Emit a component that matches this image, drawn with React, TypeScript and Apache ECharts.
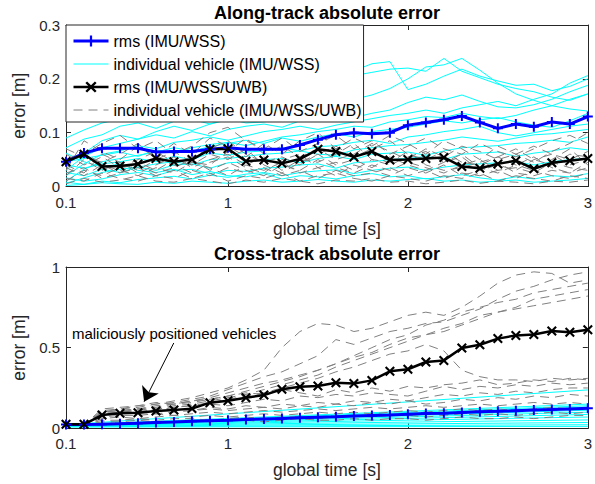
import React, { useEffect, useRef } from "react";
import * as echarts from "echarts";

// time stamps (s)
const times = [0.1, 0.2, 0.3, 0.4, 0.5, 0.6, 0.7, 0.8, 0.9, 1.0, 1.1, 1.2, 1.3, 1.4, 1.5, 1.6, 1.7, 1.8, 1.9, 2.0, 2.1, 2.2, 2.3, 2.4, 2.5, 2.6, 2.7, 2.8, 2.9, 3.0];
const xTickValues = [0.1, 1, 2, 3];

const NAME_RMS_A = "rms (IMU/WSS)";
const NAME_IND_A = "individual vehicle (IMU/WSS)";
const NAME_RMS_B = "rms (IMU/WSS/UWB)";
const NAME_IND_B = "individual vehicle (IMU/WSS/UWB)";

// ---------- along-track ----------
const alongRmsA = [0.046, 0.062, 0.071, 0.071, 0.071, 0.064, 0.065, 0.065, 0.069, 0.072, 0.069, 0.069, 0.069, 0.077, 0.087, 0.096, 0.100, 0.098, 0.100, 0.114, 0.119, 0.124, 0.131, 0.119, 0.108, 0.116, 0.111, 0.120, 0.116, 0.130];
const alongRmsB = [0.046, 0.060, 0.037, 0.038, 0.042, 0.052, 0.046, 0.050, 0.069, 0.070, 0.047, 0.049, 0.043, 0.051, 0.069, 0.065, 0.055, 0.065, 0.049, 0.050, 0.052, 0.054, 0.037, 0.034, 0.042, 0.048, 0.033, 0.044, 0.048, 0.052];

const alongIndA = [
  [0.090, 0.105, 0.118, 0.125, 0.122, 0.130, 0.128, 0.134, 0.126, 0.131, 0.140, 0.155, 0.170, 0.185, 0.195, 0.205, 0.215, 0.228, 0.232, 0.180, 0.190, 0.205, 0.218, 0.205, 0.196, 0.188, 0.190, 0.178, 0.186, 0.200],
  [0.072, 0.088, 0.096, 0.112, 0.118, 0.108, 0.121, 0.125, 0.116, 0.124, 0.130, 0.142, 0.160, 0.176, 0.188, 0.198, 0.206, 0.212, 0.218, 0.220, 0.214, 0.238, 0.214, 0.202, 0.190, 0.182, 0.176, 0.166, 0.160, 0.172],
  [0.050, 0.062, 0.085, 0.095, 0.088, 0.102, 0.112, 0.104, 0.116, 0.126, 0.118, 0.120, 0.126, 0.132, 0.142, 0.150, 0.162, 0.170, 0.182, 0.200, 0.222, 0.226, 0.238, 0.216, 0.192, 0.172, 0.160, 0.150, 0.144, 0.140],
  [0.030, 0.056, 0.072, 0.080, 0.088, 0.096, 0.090, 0.102, 0.094, 0.106, 0.112, 0.116, 0.110, 0.122, 0.126, 0.132, 0.128, 0.136, 0.142, 0.156, 0.166, 0.161, 0.170, 0.158, 0.148, 0.146, 0.152, 0.162, 0.176, 0.188],
  [0.020, 0.042, 0.060, 0.066, 0.076, 0.070, 0.082, 0.086, 0.092, 0.086, 0.094, 0.102, 0.106, 0.112, 0.106, 0.114, 0.120, 0.126, 0.132, 0.136, 0.142, 0.136, 0.146, 0.152, 0.158, 0.150, 0.162, 0.172, 0.192, 0.206],
  [0.046, 0.052, 0.058, 0.064, 0.056, 0.068, 0.062, 0.072, 0.078, 0.082, 0.076, 0.084, 0.092, 0.096, 0.102, 0.106, 0.112, 0.110, 0.120, 0.124, 0.130, 0.128, 0.136, 0.130, 0.126, 0.132, 0.142, 0.150, 0.162, 0.172],
  [0.010, 0.032, 0.046, 0.052, 0.058, 0.064, 0.072, 0.066, 0.074, 0.080, 0.086, 0.080, 0.090, 0.084, 0.092, 0.098, 0.092, 0.102, 0.106, 0.110, 0.116, 0.122, 0.118, 0.124, 0.128, 0.120, 0.114, 0.110, 0.122, 0.136],
  [0.040, 0.034, 0.042, 0.046, 0.052, 0.046, 0.056, 0.050, 0.062, 0.058, 0.064, 0.066, 0.072, 0.066, 0.074, 0.076, 0.082, 0.086, 0.080, 0.092, 0.096, 0.102, 0.106, 0.112, 0.100, 0.094, 0.100, 0.106, 0.112, 0.116],
  [0.006, 0.016, 0.026, 0.032, 0.036, 0.042, 0.046, 0.040, 0.050, 0.052, 0.056, 0.060, 0.062, 0.066, 0.060, 0.058, 0.068, 0.072, 0.076, 0.078, 0.082, 0.086, 0.092, 0.088, 0.084, 0.090, 0.096, 0.098, 0.102, 0.106],
  [0.026, 0.020, 0.032, 0.026, 0.036, 0.030, 0.040, 0.042, 0.034, 0.044, 0.046, 0.050, 0.052, 0.044, 0.052, 0.056, 0.050, 0.060, 0.062, 0.064, 0.058, 0.066, 0.072, 0.074, 0.076, 0.080, 0.082, 0.086, 0.082, 0.092],
  [0.016, 0.010, 0.014, 0.022, 0.026, 0.020, 0.030, 0.032, 0.024, 0.030, 0.028, 0.034, 0.036, 0.040, 0.042, 0.034, 0.044, 0.046, 0.050, 0.052, 0.056, 0.050, 0.060, 0.062, 0.064, 0.056, 0.062, 0.066, 0.072, 0.068],
  [0.008, 0.004, 0.010, 0.007, 0.013, 0.016, 0.019, 0.014, 0.021, 0.017, 0.023, 0.026, 0.020, 0.026, 0.029, 0.031, 0.024, 0.030, 0.034, 0.036, 0.030, 0.036, 0.040, 0.042, 0.044, 0.046, 0.040, 0.046, 0.050, 0.052],
  [0.062, 0.046, 0.036, 0.042, 0.030, 0.026, 0.032, 0.022, 0.028, 0.020, 0.018, 0.024, 0.014, 0.020, 0.018, 0.014, 0.020, 0.024, 0.018, 0.020, 0.014, 0.018, 0.022, 0.016, 0.012, 0.018, 0.014, 0.020, 0.018, 0.024],
  [0.002, 0.004, 0.007, 0.005, 0.004, 0.008, 0.006, 0.010, 0.008, 0.006, 0.010, 0.012, 0.008, 0.010, 0.013, 0.010, 0.008, 0.012, 0.010, 0.013, 0.015, 0.010, 0.012, 0.008, 0.010, 0.012, 0.008, 0.010, 0.012, 0.015],
];

const alongIndB = [
  [0.045, 0.060, 0.080, 0.095, 0.070, 0.085, 0.060, 0.075, 0.100, 0.110, 0.085, 0.070, 0.090, 0.065, 0.080, 0.095, 0.070, 0.085, 0.060, 0.075, 0.090, 0.070, 0.060, 0.080, 0.065, 0.055, 0.070, 0.085, 0.095, 0.080],
  [0.030, 0.085, 0.065, 0.050, 0.075, 0.055, 0.080, 0.060, 0.090, 0.075, 0.055, 0.080, 0.060, 0.085, 0.100, 0.070, 0.090, 0.075, 0.095, 0.080, 0.060, 0.085, 0.070, 0.050, 0.075, 0.060, 0.045, 0.065, 0.080, 0.100],
  [0.060, 0.040, 0.055, 0.035, 0.050, 0.065, 0.045, 0.055, 0.070, 0.085, 0.060, 0.045, 0.055, 0.040, 0.060, 0.075, 0.055, 0.070, 0.085, 0.060, 0.050, 0.065, 0.045, 0.040, 0.055, 0.070, 0.050, 0.040, 0.060, 0.055],
  [0.020, 0.050, 0.030, 0.045, 0.025, 0.040, 0.055, 0.035, 0.050, 0.060, 0.040, 0.055, 0.030, 0.050, 0.045, 0.060, 0.080, 0.050, 0.040, 0.055, 0.065, 0.045, 0.055, 0.030, 0.040, 0.030, 0.050, 0.060, 0.040, 0.050],
  [0.050, 0.065, 0.040, 0.025, 0.045, 0.030, 0.050, 0.040, 0.060, 0.050, 0.070, 0.040, 0.025, 0.045, 0.060, 0.040, 0.050, 0.035, 0.055, 0.040, 0.030, 0.045, 0.060, 0.035, 0.025, 0.040, 0.055, 0.035, 0.025, 0.045],
  [0.010, 0.030, 0.020, 0.035, 0.040, 0.025, 0.035, 0.050, 0.030, 0.045, 0.030, 0.020, 0.040, 0.030, 0.050, 0.035, 0.025, 0.040, 0.030, 0.045, 0.035, 0.025, 0.040, 0.050, 0.030, 0.035, 0.025, 0.045, 0.035, 0.030],
  [0.035, 0.020, 0.040, 0.030, 0.020, 0.035, 0.025, 0.045, 0.035, 0.020, 0.040, 0.030, 0.045, 0.025, 0.035, 0.020, 0.040, 0.030, 0.020, 0.035, 0.025, 0.040, 0.020, 0.030, 0.045, 0.025, 0.020, 0.030, 0.025, 0.035],
  [0.025, 0.035, 0.015, 0.025, 0.035, 0.020, 0.015, 0.030, 0.020, 0.035, 0.025, 0.035, 0.020, 0.030, 0.015, 0.030, 0.020, 0.025, 0.035, 0.020, 0.030, 0.015, 0.025, 0.020, 0.030, 0.015, 0.030, 0.020, 0.015, 0.025],
  [0.015, 0.010, 0.025, 0.015, 0.010, 0.020, 0.030, 0.015, 0.025, 0.010, 0.020, 0.015, 0.025, 0.010, 0.020, 0.025, 0.015, 0.010, 0.020, 0.015, 0.010, 0.020, 0.015, 0.025, 0.010, 0.020, 0.015, 0.010, 0.020, 0.015],
  [0.005, 0.015, 0.008, 0.012, 0.020, 0.010, 0.008, 0.015, 0.010, 0.005, 0.012, 0.008, 0.015, 0.010, 0.005, 0.012, 0.010, 0.015, 0.008, 0.010, 0.005, 0.008, 0.012, 0.006, 0.010, 0.008, 0.005, 0.010, 0.008, 0.012],
  [0.070, 0.055, 0.045, 0.060, 0.080, 0.050, 0.065, 0.045, 0.040, 0.065, 0.090, 0.060, 0.075, 0.055, 0.070, 0.050, 0.060, 0.080, 0.065, 0.050, 0.070, 0.055, 0.075, 0.065, 0.050, 0.060, 0.075, 0.060, 0.050, 0.065],
  [0.040, 0.025, 0.060, 0.045, 0.030, 0.050, 0.040, 0.025, 0.045, 0.055, 0.035, 0.025, 0.050, 0.060, 0.035, 0.045, 0.030, 0.050, 0.045, 0.065, 0.040, 0.030, 0.035, 0.045, 0.055, 0.040, 0.030, 0.050, 0.070, 0.040],
];

// ---------- cross-track ----------
const crossRmsA = [0.024, 0.024, 0.025, 0.028, 0.032, 0.036, 0.039, 0.043, 0.047, 0.050, 0.054, 0.058, 0.061, 0.065, 0.069, 0.072, 0.076, 0.080, 0.083, 0.087, 0.091, 0.094, 0.098, 0.102, 0.105, 0.109, 0.113, 0.116, 0.120, 0.124];
const crossRmsB = [0.025, 0.025, 0.082, 0.093, 0.097, 0.107, 0.113, 0.122, 0.159, 0.171, 0.190, 0.206, 0.242, 0.258, 0.262, 0.283, 0.277, 0.297, 0.353, 0.366, 0.411, 0.421, 0.498, 0.518, 0.556, 0.576, 0.582, 0.603, 0.595, 0.611];

// IMU/WSS cross-track errors grow almost linearly: value at 0.1/0.2 s and at 3.0 s
const crossIndAStart = [0.030, 0.026, 0.024, 0.022, 0.020, 0.020, 0.018, 0.016, 0.015, 0.014, 0.012, 0.010, 0.008];
const crossIndAEnd = [0.238, 0.150, 0.140, 0.132, 0.126, 0.112, 0.100, 0.086, 0.070, 0.052, 0.036, 0.022, 0.012];

const crossIndB = [
  [0.02, 0.02, 0.10, 0.12, 0.14, 0.15, 0.17, 0.19, 0.22, 0.25, 0.30, 0.36, 0.50, 0.60, 0.65, 0.64, 0.60, 0.62, 0.66, 0.70, 0.72, 0.70, 0.75, 0.82, 0.90, 0.95, 0.97, 0.96, 0.90, 0.92],
  [0.02, 0.02, 0.11, 0.12, 0.13, 0.15, 0.16, 0.18, 0.20, 0.24, 0.28, 0.32, 0.35, 0.40, 0.45, 0.55, 0.52, 0.56, 0.60, 0.62, 0.65, 0.66, 0.70, 0.74, 0.80, 0.85, 0.88, 0.92, 0.95, 0.97],
  [0.02, 0.02, 0.10, 0.11, 0.12, 0.14, 0.15, 0.17, 0.19, 0.22, 0.25, 0.28, 0.30, 0.33, 0.36, 0.40, 0.45, 0.50, 0.55, 0.58, 0.64, 0.67, 0.72, 0.75, 0.78, 0.80, 0.84, 0.86, 0.88, 0.90],
  [0.02, 0.02, 0.09, 0.10, 0.12, 0.13, 0.15, 0.16, 0.18, 0.20, 0.23, 0.26, 0.29, 0.32, 0.36, 0.40, 0.44, 0.47, 0.52, 0.56, 0.58, 0.62, 0.65, 0.70, 0.72, 0.75, 0.80, 0.82, 0.84, 0.86],
  [0.02, 0.02, 0.09, 0.10, 0.11, 0.12, 0.14, 0.15, 0.17, 0.19, 0.21, 0.24, 0.27, 0.30, 0.33, 0.38, 0.42, 0.46, 0.50, 0.54, 0.58, 0.60, 0.64, 0.68, 0.72, 0.74, 0.76, 0.78, 0.80, 0.82],
  [0.02, 0.02, 0.08, 0.09, 0.10, 0.12, 0.13, 0.14, 0.16, 0.18, 0.20, 0.22, 0.25, 0.28, 0.31, 0.35, 0.38, 0.42, 0.46, 0.48, 0.52, 0.48, 0.36, 0.32, 0.30, 0.30, 0.29, 0.31, 0.30, 0.31],
  [0.02, 0.02, 0.12, 0.13, 0.14, 0.16, 0.15, 0.17, 0.18, 0.20, 0.22, 0.21, 0.24, 0.22, 0.20, 0.24, 0.22, 0.25, 0.23, 0.26, 0.25, 0.27, 0.28, 0.30, 0.27, 0.28, 0.30, 0.29, 0.31, 0.30],
  [0.02, 0.02, 0.10, 0.11, 0.12, 0.11, 0.13, 0.14, 0.15, 0.14, 0.16, 0.18, 0.17, 0.20, 0.19, 0.21, 0.20, 0.22, 0.21, 0.20, 0.23, 0.26, 0.24, 0.26, 0.25, 0.27, 0.26, 0.28, 0.27, 0.28],
  [0.02, 0.02, 0.09, 0.10, 0.09, 0.11, 0.12, 0.11, 0.13, 0.12, 0.14, 0.13, 0.15, 0.14, 0.16, 0.15, 0.17, 0.16, 0.18, 0.17, 0.19, 0.21, 0.20, 0.22, 0.21, 0.23, 0.22, 0.24, 0.25, 0.25],
  [0.02, 0.02, 0.08, 0.09, 0.10, 0.09, 0.10, 0.11, 0.12, 0.11, 0.12, 0.13, 0.12, 0.14, 0.13, 0.15, 0.14, 0.16, 0.15, 0.17, 0.15, 0.16, 0.18, 0.17, 0.19, 0.18, 0.20, 0.19, 0.21, 0.20],
  [0.02, 0.02, 0.07, 0.08, 0.08, 0.09, 0.08, 0.09, 0.10, 0.09, 0.10, 0.11, 0.10, 0.11, 0.12, 0.11, 0.12, 0.13, 0.12, 0.13, 0.14, 0.13, 0.14, 0.15, 0.14, 0.15, 0.16, 0.15, 0.16, 0.15],
  [0.02, 0.02, 0.06, 0.07, 0.06, 0.07, 0.08, 0.07, 0.08, 0.07, 0.08, 0.09, 0.08, 0.09, 0.10, 0.09, 0.10, 0.09, 0.10, 0.11, 0.10, 0.11, 0.12, 0.11, 0.12, 0.11, 0.12, 0.13, 0.12, 0.12],
  [0.02, 0.02, 0.05, 0.05, 0.06, 0.05, 0.06, 0.06, 0.05, 0.06, 0.07, 0.06, 0.07, 0.07, 0.06, 0.07, 0.08, 0.07, 0.08, 0.08, 0.07, 0.08, 0.09, 0.08, 0.09, 0.08, 0.09, 0.10, 0.09, 0.10],
  [0.02, 0.02, 0.04, 0.04, 0.05, 0.04, 0.04, 0.05, 0.04, 0.05, 0.05, 0.04, 0.05, 0.06, 0.05, 0.05, 0.06, 0.05, 0.06, 0.06, 0.05, 0.06, 0.07, 0.06, 0.06, 0.07, 0.06, 0.07, 0.08, 0.08],
];

// annotation (data coordinates of the bottom panel)
const noteText = "maliciously positioned vehicles";
const notePos = [0.133, 0.59];
const arrowFrom = [0.699, 0.529];
const arrowTo = [0.534, 0.165];

const FONT = "'Liberation Sans', Arial, Helvetica, sans-serif";
const AX = "#262626";
const CYAN = "#00ffff";
const GRAY = "#808080";
const PLUS = "path://M4,0H6V4H10V6H6V10H4V6H0V4H4Z";
const CROSS = "path://M1.5,0L5,3.5L8.5,0L10,1.5L6.5,5L10,8.5L8.5,10L5,6.5L1.5,10L0,8.5L3.5,5L0,1.5Z";
const DASH: number[] = [9, 6];

const pairs = (vals: number[]) => vals.map((v, i) => [times[i], v]);

function xAxes(gridIndex: number) {
  const base = {
    type: "value",
    gridIndex,
    min: 0.1,
    max: 3,
    splitLine: { show: false },
    axisLine: { show: true, onZero: false, lineStyle: { color: AX, width: 1 } },
    axisTick: { show: true, inside: true, length: 5, customValues: xTickValues, lineStyle: { color: AX } },
  };
  return [
    {
      ...base,
      position: "bottom",
      name: "global time [s]",
      nameLocation: "middle",
      nameGap: 33,
      nameTextStyle: { fontFamily: FONT, fontSize: 17.5, color: AX },
      axisLabel: { show: true, customValues: xTickValues, margin: 8, fontFamily: FONT, fontSize: 15, color: AX },
    },
    { ...base, position: "top", axisLabel: { show: false } },
  ];
}

function yAxes(gridIndex: number, max: number, interval: number) {
  const base = {
    type: "value",
    gridIndex,
    min: 0,
    max,
    interval,
    splitLine: { show: false },
    axisLine: { show: true, onZero: false, lineStyle: { color: AX, width: 1 } },
    axisTick: { show: true, inside: true, length: 5, lineStyle: { color: AX } },
  };
  return [
    {
      ...base,
      position: "left",
      name: "error [m]",
      nameLocation: "middle",
      nameGap: 34,
      nameTextStyle: { fontFamily: FONT, fontSize: 17.5, color: AX },
      axisLabel: { show: true, margin: 6, fontFamily: FONT, fontSize: 15, color: AX },
    },
    { ...base, position: "right", axisLabel: { show: false } },
  ];
}

function indSeries(name: string, data: number[][], xi: number, color: string, dashed: boolean) {
  return {
    type: "line",
    name,
    xAxisIndex: xi,
    yAxisIndex: xi,
    data,
    symbol: "none",
    silent: true,
    lineStyle: { color, width: 1, type: dashed ? DASH : "solid" },
    itemStyle: { color },
    emphasis: { disabled: true },
  };
}

function rmsSeries(name: string, vals: number[], xi: number, color: string, symbol: string, size: number, width: number) {
  return {
    type: "line",
    name,
    xAxisIndex: xi,
    yAxisIndex: xi,
    data: pairs(vals),
    symbol,
    symbolSize: size,
    showSymbol: true,
    silent: true,
    lineStyle: { color, width },
    itemStyle: { color, borderWidth: 0 },
    emphasis: { disabled: true },
  };
}

export default function App() {
  const ref = useRef<HTMLDivElement>(null);
  useEffect(() => {
    if (!ref.current) return;
    const chart = echarts.init(ref.current, null, { renderer: "svg" });
    const series: any[] = [];
    alongIndA.forEach((v) => series.push(indSeries(NAME_IND_A, pairs(v), 0, CYAN, false)));
    alongIndB.forEach((v) => series.push(indSeries(NAME_IND_B, pairs(v), 0, GRAY, true)));
    series.push(rmsSeries(NAME_RMS_A, alongRmsA, 0, "#0000ff", PLUS, 10, 3));
    series.push(rmsSeries(NAME_RMS_B, alongRmsB, 0, "#000000", CROSS, 10, 2.5));

    crossIndAStart.forEach((s, i) =>
      series.push(indSeries(NAME_IND_A, [[times[0], s], [times[1], s], [times[times.length - 1], crossIndAEnd[i]]], 2, CYAN, false))
    );
    crossIndB.forEach((v) => series.push(indSeries(NAME_IND_B, pairs(v), 2, GRAY, true)));
    series.push(rmsSeries(NAME_RMS_A, crossRmsA, 2, "#0000ff", PLUS, 10, 3));
    const blackBottom: any = rmsSeries(NAME_RMS_B, crossRmsB, 2, "#000000", CROSS, 10, 2.5);
    blackBottom.markLine = {
      silent: true,
      symbol: ["none", "arrow"],
      symbolSize: 14,
      label: { show: false },
      lineStyle: { color: "#000", width: 1, type: "solid" },
      emphasis: { disabled: true },
      data: [[{ coord: arrowFrom }, { coord: arrowTo }]],
    };
    series.push(blackBottom);

    const hidden = { color: "rgba(0,0,0,0)", opacity: 0, borderWidth: 0 };
    const option: any = {
      animation: false,
      backgroundColor: "#ffffff",
      grid: [
        { left: 66, right: 1.5, top: 25, height: 161.5, containLabel: false },
        { left: 66, right: 1.5, top: 267, height: 161.3, containLabel: false },
      ],
      xAxis: [...xAxes(0), ...xAxes(1)],
      yAxis: [...yAxes(0, 0.3, 0.1), ...yAxes(1, 1, 0.5)],
      legend: {
        show: true,
        orient: "vertical",
        left: 66,
        top: 25,
        padding: [8, 2, 4, 6],
        itemGap: 7,
        itemWidth: 35,
        itemHeight: 14,
        backgroundColor: "#ffffff",
        borderColor: AX,
        borderWidth: 1,
        selectedMode: false,
        textStyle: { fontFamily: FONT, fontSize: 16, color: "#000" },
        data: [
          { name: NAME_RMS_A, lineStyle: { width: 3, color: "#0000ff" } },
          { name: NAME_IND_A, lineStyle: { width: 1, color: CYAN }, itemStyle: hidden },
          { name: NAME_RMS_B, lineStyle: { width: 2.5, color: "#000000" } },
          { name: NAME_IND_B, lineStyle: { width: 1, color: GRAY, type: DASH }, itemStyle: hidden },
        ],
      },
      series,
    };
    chart.setOption(option);

    const np = chart.convertToPixel({ xAxisIndex: 2, yAxisIndex: 2 }, notePos) as number[];
    const titleStyle = { fontFamily: FONT, fontSize: 18, fontWeight: "bold", fill: "#000", align: "center", verticalAlign: "middle" };
    chart.setOption({
      graphic: [
        { type: "text", x: 327, y: 12.5, silent: true, style: { ...titleStyle, text: "Along-track absolute error" } },
        { type: "text", x: 327, y: 254, silent: true, style: { ...titleStyle, text: "Cross-track absolute error" } },
        {
          type: "text",
          x: np[0],
          y: np[1],
          silent: true,
          style: { text: noteText, fontFamily: FONT, fontSize: 15, fill: "#000", align: "left", verticalAlign: "middle" },
        },
      ],
    });
    return () => chart.dispose();
  }, []);
  return <div ref={ref} style={{ position: "fixed", left: 0, top: 0, width: 595, height: 484 }} />;
}
